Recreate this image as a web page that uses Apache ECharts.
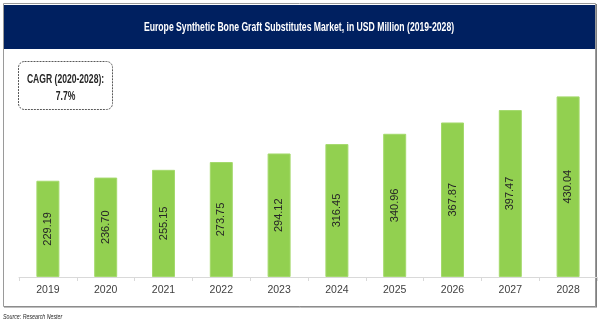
<!DOCTYPE html>
<html>
<head>
<meta charset="utf-8">
<script src="https://cdn.jsdelivr.net/npm/echarts@6/dist/echarts.min.js"></script>
<style>
  html, body { margin: 0; padding: 0; background: #ffffff; }
  #chart { width: 600px; height: 328px; }
</style>
</head>
<body>
<div id="chart"></div>
<script>
const titleText = 'Europe Synthetic Bone Graft Substitutes Market, in USD Million (2019-2028)';
const categories = ['2019', '2020', '2021', '2022', '2023', '2024', '2025', '2026', '2027', '2028'];
const marketValues = [229.19, 236.70, 255.15, 273.75, 294.12, 316.45, 340.96, 367.87, 397.47, 430.04];
const cagrLines = ['CAGR (2020-2028):', '7.7%'];
const sourceText = 'Source: Research Nester';

const chart = echarts.init(document.getElementById('chart'), null, { renderer: 'canvas' });
const SQ = 0.66;

chart.setOption({
  backgroundColor: '#ffffff',
  animation: false,
  grid: { left: 19, right: 3, top: 67, bottom: 51 },
  xAxis: {
    type: 'category',
    data: categories,
    boundaryGap: true,
    axisLine: { show: true, lineStyle: { color: '#d9d9d9', width: 1 } },
    axisTick: { show: true, length: 4, lineStyle: { color: '#d9d9d9' } },
    axisLabel: { color: '#404040', fontSize: 10.5, fontFamily: "'Liberation Sans', Arial, sans-serif", margin: 8 }
  },
  yAxis: {
    type: 'value', min: 0, max: 500, show: false,
    splitLine: { show: false }
  },
  graphic: [
    { type: 'rect', z: -10, shape: { x: 3.5, y: 3.5, width: 592, height: 303 },
      style: { fill: '#ffffff', stroke: '#9a9a9a', lineWidth: 1 } },
    { type: 'line', z: -9, shape: { x1: 4, y1: 307, x2: 597, y2: 307 },
      style: { stroke: '#7f7f7f', lineWidth: 1 } },
    { type: 'line', z: -9, shape: { x1: 596.5, y1: 4, x2: 596.5, y2: 307 },
      style: { stroke: '#7f7f7f', lineWidth: 1 } },
    { type: 'rect', z: -8, shape: { x: 4, y: 5, width: 591, height: 44 },
      style: { fill: '#002060' } },
    { type: 'text', z: 10, x: 299, y: 28, scaleX: 0.72,
      style: { x: 0, y: 0, text: titleText, fill: '#ffffff', font: 'bold 12px "Liberation Sans", Arial, sans-serif',
        align: 'center', verticalAlign: 'middle' } },
    { type: 'rect', z: 5, shape: { x: 18.5, y: 61.5, width: 94, height: 48, r: 6 },
      style: { fill: '#ffffff', stroke: '#595959', lineWidth: 1, lineDash: [2, 1] } },
    { type: 'text', z: 10, x: 65.5, y: 79, scaleX: SQ,
      style: { x: 0, y: 0, text: cagrLines[0], fill: '#262626', font: 'bold 13px "Liberation Sans", Arial, sans-serif',
        align: 'center', verticalAlign: 'middle' } },
    { type: 'text', z: 10, x: 65.5, y: 96, scaleX: SQ,
      style: { x: 0, y: 0, text: cagrLines[1], fill: '#262626', font: 'bold 13px "Liberation Sans", Arial, sans-serif',
        align: 'center', verticalAlign: 'middle' } },
    { type: 'text', z: 10, x: 3, y: 317, scaleX: SQ,
      style: { x: 0, y: 0, text: sourceText, fill: '#262626', font: 'italic 8px "Liberation Sans", Arial, sans-serif',
        align: 'left', verticalAlign: 'middle' } }
  ],
  series: [{
    type: 'bar',
    data: marketValues,
    barWidth: 23,
    itemStyle: { color: '#92d050', borderColor: '#a4d96c', borderWidth: 1 },
    label: {
      show: true, position: 'inside', rotate: 90,
      color: '#262626', fontSize: 11, fontFamily: "'Liberation Sans', Arial, sans-serif",
      formatter: p => p.value.toFixed(2)
    }
  }]
});
</script>
</body>
</html>
